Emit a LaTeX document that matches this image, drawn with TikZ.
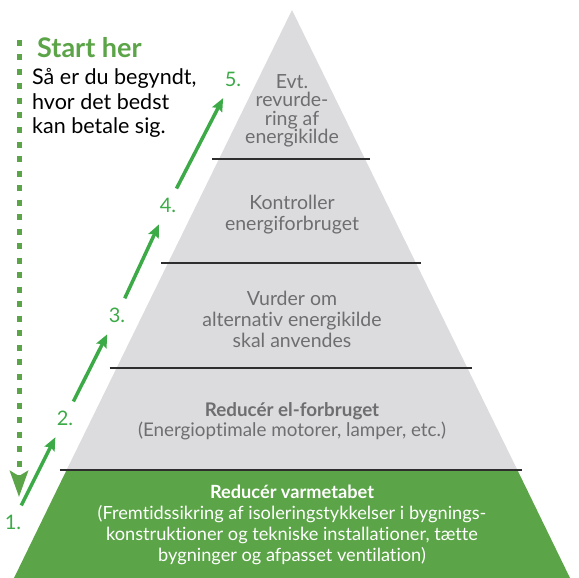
\documentclass[tikz,border=0pt]{standalone}
\usepackage{fontspec}
\setmainfont{Lato}[Ligatures={NoCommon,NoRare,NoContextual}]
\usepackage{tikz}
\usetikzlibrary{positioning, arrows.meta, calc}
\definecolor{leaf}{HTML}{5BA447}
\definecolor{climb}{HTML}{3DAA48}
\definecolor{stone}{HTML}{DCDCDE}
\definecolor{dim}{HTML}{6E6E70}
\definecolor{rule}{HTML}{2E2E2E}

\begin{document}
\begin{tikzpicture}[
  x=1pt, y=-1pt,
  every node/.style={inner sep=0pt},
  lvl/.style={align=center, text=dim, font=\fontsize{19.5}{18.5}\selectfont},
  lvlw/.style={align=center, text=white, font=\fontsize{18.2}{21}\selectfont},
  num/.style={text=climb, font=\fontsize{20}{20}\selectfont, inner sep=1pt},
  sep/.style={draw=rule, line width=1.3pt},
  ladder/.style={draw=climb, line width=3.5pt,
                 -{Stealth[length=13pt, width=11pt, inset=2pt]},
                 shorten <=9pt, shorten >=12pt},
  down/.style={draw=leaf, line width=5pt, dash pattern=on 6pt off 8.5pt,
               -{Stealth[length=26pt, width=18pt, inset=5pt]}}
]
\useasboundingbox (0,0) rectangle (579,578);

% --- pyramid: apex (292,10), half width 0.49 per unit of depth ---
\fill[stone] (292,10) -- (66.6,470) -- (517.4,470) -- cycle;
\fill[leaf]  (66.6,470) -- (14,578) -- (570,578) -- (517.4,470) -- cycle;
\foreach \y in {159,263,368,470}
  \draw[sep] ({291-0.49*(\y-10)-6},\y) -- ({291+0.49*(\y-10)+6},\y);

% --- level texts ---
\node[lvl] at (292,111) (l5) {Evt.\\revurde-\\ring af\\energikilde};
\node[lvl, font=\fontsize{19.5}{21}\selectfont] at (292,215) (l4)
  {Kontroller\\energiforbruget};
\node[lvl, font=\fontsize{19.5}{21}\selectfont] at (292,319) (l3)
  {Vurder om\\alternativ energikilde\\skal anvendes};
\node[lvl, font=\fontsize{18.8}{20}\selectfont] at (292,421) (l2)
  {\textbf{Reducér el-forbruget}\\(Energioptimale motorer, lamper, etc.)};
\node[lvlw] at (292,525) (l1)
  {\textbf{Reducér varmetabet}\\(Fremtidssikring af isoleringstykkelser i bygnings-\\
   konstruktioner og tekniske installationer, tætte\\
   bygninger og afpasset ventilation)};

% --- start note ---
\node[anchor=west, text=leaf, font=\fontsize{27}{27}\selectfont\bfseries]
  at (37,48) (start) {Start her};
\node[anchor=west, align=left, font=\fontsize{21.5}{24.5}\selectfont]
  at (32,103) (note) {Så er du begyndt,\\hvor det bedst\\kan betale sig.};

% --- step numbers ---
\node[num] at (13,522) (n1) {1.};
\node[num] at (65,418) (n2) {2.};
\node[num] at (117,315) (n3) {3.};
\node[num] at (168,205) (n4) {4.};
\node[num] at (233,79)  (n5) {5.};

% --- arrows ---
\coordinate (dtop) at (19,40);
\coordinate (dbot) at (19,497);
\draw[down] (dtop) -- (dbot);
\draw[ladder] (n1) -- (n2);
\draw[ladder] (n2) -- (n3);
\draw[ladder] (n3) -- (n4);
\draw[ladder] (n4) -- (n5);
\end{tikzpicture}
\end{document}
